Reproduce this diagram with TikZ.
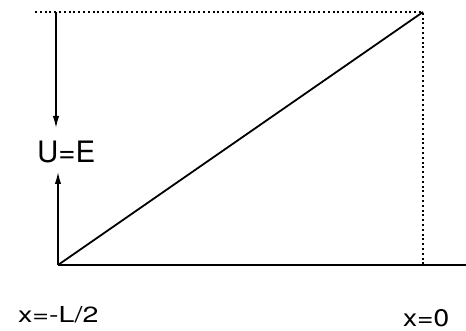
\documentclass[tikz,border=0pt]{standalone}
\usepackage{fontspec}
\setmainfont{TeX Gyre Heros}
\usetikzlibrary{arrows.meta}
\begin{document}
\begin{tikzpicture}[x=1pt,y=-1pt,
  solidline/.style={line width=1.8pt},
  dotline/.style={line width=1.4pt,dash pattern=on 2pt off 2.8pt},
  arr/.style={line width=1.5pt,-{Latex[length=12pt,width=6.5pt]}},
  lbl/.style={inner sep=0pt,anchor=base west}]
\useasboundingbox (0,0) rectangle (466,331);
\coordinate (O) at (58,265);
\coordinate (T) at (423,12);
\coordinate (TL) at (35,12);
\coordinate (B) at (423,265);
\coordinate (R) at (466,265);
\coordinate (A1s) at (56,12);
\coordinate (A1e) at (56,128);
\coordinate (A2e) at (58,172);
\draw[dotline] (TL) -- (T) -- (B);
\draw[solidline] (O) -- (R);
\draw[solidline] (O) -- (T);
\draw[arr] (A1s) -- (A1e);
\draw[arr] (O) -- (A2e);
\node[lbl,font=\fontsize{29.5}{32}\selectfont] (ue) at (37,163) {U=E};
\node[lbl,font=\fontsize{22}{24}\selectfont] (xl) at (18,322) {\scalebox{1.3}[1]{x=-L/2}};
\node[lbl,font=\fontsize{24}{26}\selectfont] (x0) at (403,326) {\scalebox{1.17}[1]{x=0}};
\end{tikzpicture}
\end{document}
